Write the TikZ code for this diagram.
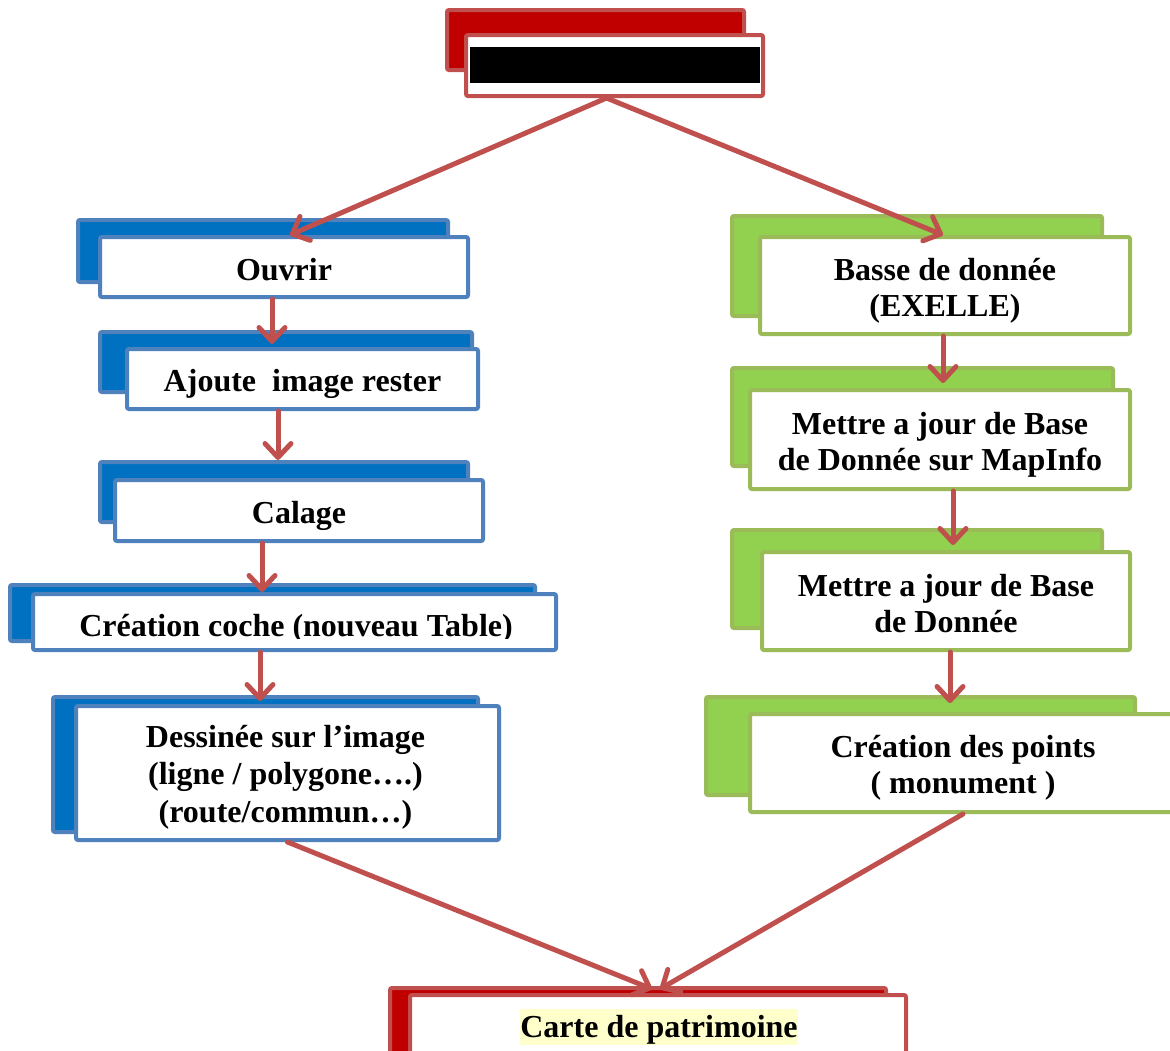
\documentclass[tikz,border=0pt]{standalone}
\usepackage{fontspec}
\setmainfont{Liberation Serif}
\usetikzlibrary{arrows.meta}
\definecolor{rline}{HTML}{C0504D}
\definecolor{rfill}{HTML}{C00000}
\definecolor{bline}{HTML}{4F81BD}
\definecolor{bfill}{HTML}{0070C0}
\definecolor{gline}{HTML}{9BBB59}
\definecolor{gfill}{HTML}{92D050}
\definecolor{hilite}{HTML}{FFFFCC}
\begin{document}
\begin{tikzpicture}[x=1pt,y=-1pt,
  box/.style={draw, line width=4pt, rounded corners=2pt, inner sep=0pt},
  txt/.style={align=center, inner sep=0pt, font=\bfseries\fontsize{32}{36}\selectfont},
  bblue/.style={box, draw=bline, fill=bfill},
  fblue/.style={box, draw=bline, fill=white},
  bgreen/.style={box, draw=gline, fill=gfill},
  fgreen/.style={box, draw=gline, fill=white},
  bred/.style={box, draw=rline, fill=rfill},
  fred/.style={box, draw=rline, fill=white},
  arr/.style={draw=rline, line width=5pt, line cap=round, -{Straight Barb[length=14pt,width=26pt,round]}}]
\useasboundingbox (0,0) rectangle (1170,1050);
\clip (0,0) rectangle (1170,1050);
% top box
\node[bred, minimum width=297pt, minimum height=60pt] (tb) at (595.5,40) {};
\node[fred, minimum width=297pt, minimum height=61pt] (tf) at (614.5,65.5) {};
\node[fill=black, inner sep=0pt, minimum width=290pt, minimum height=36pt] (tbar) at (615,65) {};
% blue column
\node[bblue, minimum width=370pt, minimum height=62pt] (o1b) at (263,251) {};
\node[fblue, minimum width=368pt, minimum height=60pt] (o1f) at (284,267) {};
\node[txt] (o1t) at ([yshift=-3pt]o1f.center) {Ouvrir};
\node[bblue, minimum width=372pt, minimum height=60pt] (o2b) at (286,362) {};
\node[fblue, minimum width=351pt, minimum height=60pt] (o2f) at (302.5,379) {};
\node[txt] (o2t) at ([yshift=-5pt]o2f.center) {Ajoute\ \ image rester};
\node[bblue, minimum width=368pt, minimum height=60pt] (o3b) at (284,492) {};
\node[fblue, minimum width=368pt, minimum height=61pt] (o3f) at (299,510.5) {};
\node[txt] (o3t) at ([yshift=-5pt]o3f.center) {Calage};
\node[bblue, minimum width=525pt, minimum height=56pt] (o4b) at (272.5,613) {};
\node[fblue, minimum width=523pt, minimum height=56pt] (o4f) at (294.5,622) {};
\begin{scope}
  \clip (35,596) rectangle (554,638.5);
  \node[txt, anchor=base] (o4t) at (296,636) {Création coche (nouveau Table)};
\end{scope}
\node[bblue, minimum width=425pt, minimum height=135pt] (o5b) at (265.5,764.5) {};
\node[fblue, minimum width=423pt, minimum height=134pt] (o5f) at (287.5,773) {};
\node[txt, font=\bfseries\fontsize{32}{37.5}\selectfont] (o5t) at ([xshift=-2pt,yshift=-4pt]o5f.center) {Dessinée sur l’image\\ (ligne / polygone….)\\(route/commun…)};
% green column
\node[bgreen, minimum width=370pt, minimum height=100pt] (g1b) at (917,266) {};
\node[fgreen, minimum width=370pt, minimum height=97pt] (g1f) at (945,285.5) {};
\node[txt] (g1t) at ([yshift=-5pt]g1f.center) {Basse de donnée\\(EXELLE)};
\node[bgreen, minimum width=381pt, minimum height=98pt] (g2b) at (922.5,417) {};
\node[fgreen, minimum width=380pt, minimum height=99pt] (g2f) at (940,439.5) {};
\node[txt] (g2t) at ([yshift=-5pt]g2f.center) {Mettre a jour de Base\\de Donnée sur MapInfo};
\node[bgreen, minimum width=370pt, minimum height=98pt] (g3b) at (917,579) {};
\node[fgreen, minimum width=368pt, minimum height=98pt] (g3f) at (946,601) {};
\node[txt] (g3t) at ([yshift=-3pt]g3f.center) {Mettre a jour de Base\\de Donnée};
\node[bgreen, minimum width=429pt, minimum height=98pt] (g4b) at (920.5,746) {};
\node[fgreen, minimum width=426pt, minimum height=98pt] (g4f) at (963,763) {};
\node[txt] (g4t) at ([yshift=-5pt]g4f.center) {Création des points\\( monument )};
% bottom box
\node[bred, minimum width=496pt, minimum height=92pt] (fb) at (638,1034) {};
\node[fred, minimum width=496pt, minimum height=85pt] (ff) at (658,1037.5) {};
\node[txt, fill=hilite, anchor=base, text height=28pt, text depth=8pt] (ft) at (659,1037) {Carte de patrimoine};
% connectors
\draw[arr] ([xshift=-8pt]tf.south) -- ([xshift=6pt]o1f.north);
\draw[arr] ([xshift=-8pt]tf.south) -- ([xshift=-2pt]g1f.north);
\draw[arr] ([xshift=-12pt]o1f.south) -- ([xshift=-12pt,yshift=3pt]o1f.south |- o2f.north);
\draw[arr] ([xshift=-24.5pt]o2f.south) -- ([xshift=-24.5pt]o2f.south |- o3b.north);
\draw[arr] ([xshift=-37pt]o3f.south) -- ([xshift=-37pt]o3f.south |- o4f.north);
\draw[arr] ([xshift=-34.5pt]o4f.south) -- ([xshift=-34.5pt,yshift=3pt]o4f.south |- o5f.north);
\draw[arr] ([xshift=-2pt]g1f.south) -- ([xshift=-2pt,yshift=5pt]g1f.south |- g2f.north);
\draw[arr] ([xshift=13pt]g2f.south) -- ([xshift=13pt,yshift=5pt]g2f.south |- g3f.north);
\draw[arr] ([xshift=4pt]g3f.south) -- ([xshift=4pt,yshift=9pt]g3f.south |- g4f.north);
\draw[arr] (o5f.south) -- ([xshift=-6pt,yshift=4pt]ff.north);
\draw[arr] (g4f.south) -- ([xshift=2pt,yshift=4pt]ff.north);
\end{tikzpicture}
\end{document}
